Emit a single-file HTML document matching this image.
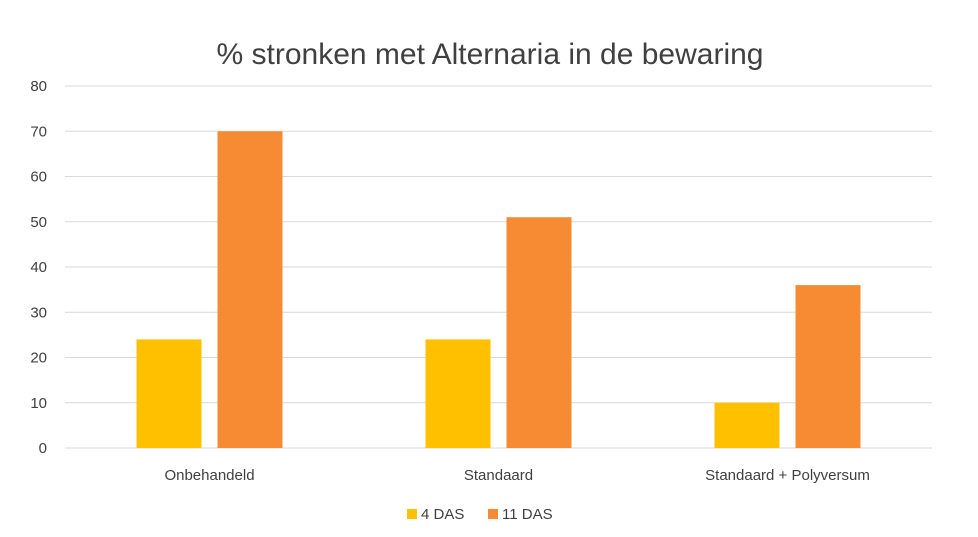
<!DOCTYPE html>
<html><head><meta charset="utf-8"><style>
body{margin:0;background:#fff;}
svg text{font-family:"Liberation Sans",sans-serif;}
</style></head><body>
<svg id="chart" width="978" height="532" xmlns="http://www.w3.org/2000/svg">
<rect width="978" height="532" fill="#fff"/>
<text x="490" y="64" text-anchor="middle" font-size="30" fill="#404040">% stronken met Alternaria in de bewaring</text>
<g id="grid"></g><g id="bars"></g><g id="xlabels"></g>
<g>
<rect x="407" y="509" width="10" height="10" fill="#FFC000"/>
<text x="421" y="519" font-size="15" fill="#404040">4 DAS</text>
<rect x="488" y="509" width="10" height="10" fill="#F68B33"/>
<text x="502" y="519" font-size="15" fill="#404040">11 DAS</text>
</g>
</svg>
<script>
const categories = ["Onbehandeld", "Standaard", "Standaard + Polyversum"];
const das4 = [24, 24, 10];
const das11 = [70, 51, 36];
const yTicks = [0, 10, 20, 30, 40, 50, 60, 70, 80];
const ns = "http://www.w3.org/2000/svg";
const x0 = 65, x1 = 932, y0 = 448, yTop = 86, yMax = 80;
const yScale = v => y0 - (v / yMax) * (y0 - yTop);
const bandW = (x1 - x0) / categories.length;
const barW = 65, gap = 16;
function mk(tag, attrs, parent) {
  const e = document.createElementNS(ns, tag);
  for (const k in attrs) e.setAttribute(k, attrs[k]);
  parent.appendChild(e); return e;
}
const grid = document.getElementById("grid");
yTicks.forEach(t => {
  const y = yScale(t);
  const l = mk("line", {x1: x0, x2: x1, y1: y, y2: y, stroke: "#d9d9d9", "stroke-width": 1}, grid);
  
  
  const tx = mk("text", {x: 47, y: y + 5, "text-anchor": "end", "font-size": 15, fill: "#404040"}, grid);
  
  
  tx.textContent = t;
});
const bars = document.getElementById("bars");
const xl = document.getElementById("xlabels");
categories.forEach((c, i) => {
  const cx = x0 + bandW * (i + 0.5);
  const b1 = mk("rect", {x: cx - gap/2 - barW, y: yScale(das4[i]), width: barW, height: y0 - yScale(das4[i]), fill: "#FFC000"}, bars);
  
  
  const b2 = mk("rect", {x: cx + gap/2, y: yScale(das11[i]), width: barW, height: y0 - yScale(das11[i]), fill: "#F68B33"}, bars);
  
  
  const t = mk("text", {x: cx, y: 480, "text-anchor": "middle", "font-size": 15, fill: "#404040"}, xl);
  
  
  t.textContent = c;
});
</script>
</body></html>
